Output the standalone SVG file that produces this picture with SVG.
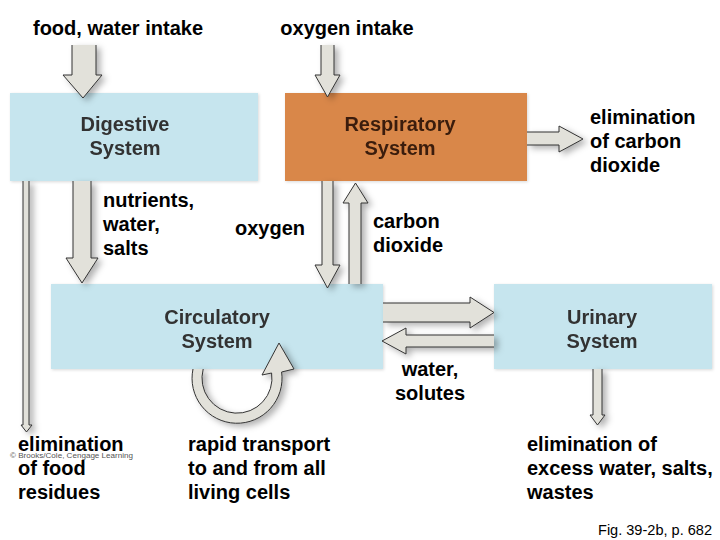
<svg xmlns="http://www.w3.org/2000/svg" width="720" height="540" viewBox="0 0 720 540">
<defs>
<filter id="sh" x="-30%" y="-30%" width="160%" height="160%">
<feDropShadow dx="4" dy="3" stdDeviation="3" flood-color="#000" flood-opacity="0.3"/>
</filter>
<filter id="bs" x="-10%" y="-10%" width="120%" height="120%">
<feDropShadow dx="1" dy="1" stdDeviation="1.5" flood-color="#000" flood-opacity="0.15"/>
</filter>
</defs>
<style>
text{font-family:"Liberation Sans",Arial,sans-serif;font-size:20px;font-weight:bold;fill:#000}
.lbl{fill:#333;text-anchor:middle}
.rl{fill:#3a1e0c;text-anchor:middle}
.mid{text-anchor:middle}
.blue{fill:#c6e5ee}
.orange{fill:#d9874a}
.arr{fill:#e2e1da;stroke:#333;stroke-width:1}
</style>
<rect width="720" height="540" fill="#fff"/>

<g id="digestive" filter="url(#bs)">
<rect class="blue" x="10" y="93" width="248" height="88"/>
<text class="lbl" x="125" y="131">Digestive</text>
<text class="lbl" x="125" y="155">System</text>
</g>
<g id="respiratory" filter="url(#bs)">
<rect class="orange" x="285" y="93" width="242" height="88"/>
<text class="rl" x="400" y="131">Respiratory</text>
<text class="rl" x="400" y="155">System</text>
</g>
<g id="circulatory" filter="url(#bs)">
<rect class="blue" x="51" y="284" width="332" height="85"/>
<text class="lbl" x="217" y="324">Circulatory</text>
<text class="lbl" x="217" y="348">System</text>
</g>
<g id="urinary" filter="url(#bs)">
<rect class="blue" x="494" y="284" width="218" height="85"/>
<text class="lbl" x="602" y="324">Urinary</text>
<text class="lbl" x="602" y="348">System</text>
</g>

<g id="connectors" filter="url(#sh)">
<path class="arr" d="M72,45 V75 H63 L83,98 L102,75 H96 V45"/>
<path class="arr" d="M321,45 V75 H315 L327.5,97 L340,75 H334 V45"/>
<path class="arr" d="M527,132 H559 V126 L583,139 L559,152 V145 H527"/>
<path class="arr" d="M73,181 V258 H66 L82,283 L98,258 H91 V181"/>
<path class="arr" d="M23,181 V425 H21 L26.5,432 L32,425 H29 V181"/>
<path class="arr" d="M322,181 V265 H315 L327.5,288 L340,265 H333 V181"/>
<path class="arr" d="M349,284 V203 H343 L355.5,183 L368,203 H361 V284"/>
<path class="arr" d="M383,303 H470 V297 L494,312.5 L470,328 V322 H383"/>
<path class="arr" d="M494,335 H406 V328 L382,341 L406,354 V347 H494"/>
<path class="arr" d="M593,369 V415 H590 L597.5,425 L605,415 H602 V369"/>
<path class="arr" d="M193,369 A45,45 0 1 0 281.6,372 L294,369 L279,343 L262,375 L271.6,373 A35,35 0 1 1 203.2,369"/>
</g>

<g id="labels">
<text class="mid" x="118" y="35">food, water intake</text>
<text class="mid" x="347" y="35">oxygen intake</text>
<text x="590" y="124">elimination</text>
<text x="590" y="148">of carbon</text>
<text x="590" y="172">dioxide</text>
<text x="103" y="207">nutrients,</text>
<text x="103" y="231">water,</text>
<text x="103" y="255">salts</text>
<text class="mid" x="270" y="235">oxygen</text>
<text x="373" y="228">carbon</text>
<text x="373" y="252">dioxide</text>
<text class="mid" x="430" y="376">water,</text>
<text class="mid" x="430" y="400">solutes</text>
<text x="18" y="451">elimination</text>
<text x="18" y="475">of food</text>
<text x="18" y="499">residues</text>
<text x="188" y="451">rapid transport</text>
<text x="188" y="475">to and from all</text>
<text x="188" y="499">living cells</text>
<text x="527" y="451">elimination of</text>
<text x="527" y="475">excess water, salts,</text>
<text x="527" y="499">wastes</text>
<text x="10" y="458" style="font-size:8px;font-weight:normal;fill:#555" textLength="123" lengthAdjust="spacingAndGlyphs">© Brooks/Cole, Cengage Learning</text>
<text x="712" y="535" style="font-size:14px;font-weight:normal;text-anchor:end;font-family:'Liberation Sans Narrow','Liberation Sans',sans-serif" textLength="114" lengthAdjust="spacingAndGlyphs">Fig. 39-2b, p. 682</text>
</g>
</svg>
